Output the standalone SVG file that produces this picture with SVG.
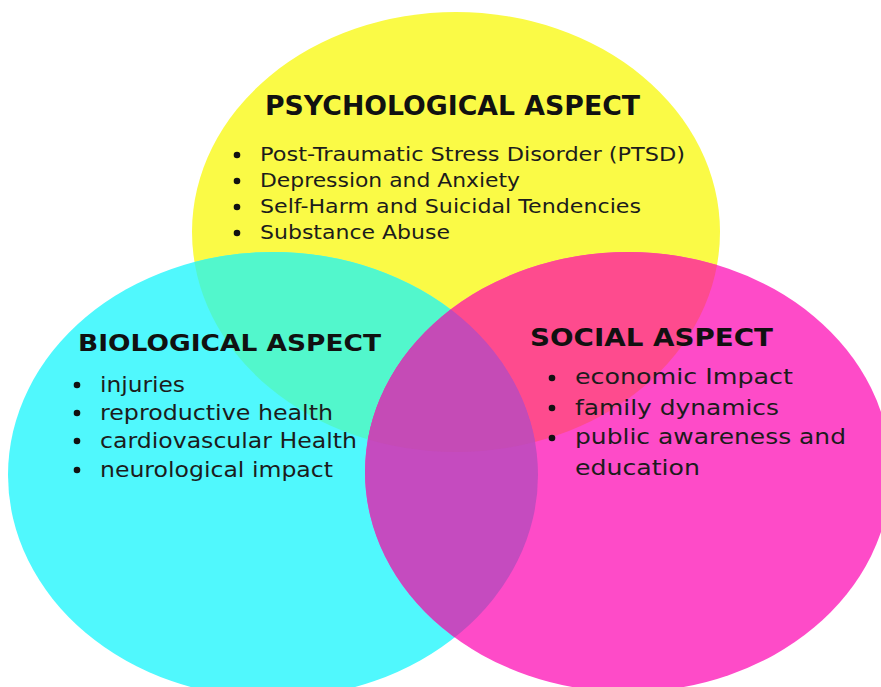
<svg xmlns="http://www.w3.org/2000/svg" xmlns:xlink="http://www.w3.org/1999/xlink" width="881" height="687" viewBox="0 0 881 687">
  <style>
    .title { font-family: "DejaVu Sans", "Liberation Sans", sans-serif; font-weight: bold; fill: #111; }
    .item { font-family: "DejaVu Sans", "Liberation Sans", sans-serif; fill: #1c1c1c; }
    .dot { fill: #111; }
  </style>
  <defs>
    <ellipse id="shape-psy" cx="456" cy="232" rx="264" ry="220"/>
    <ellipse id="shape-bio" cx="273" cy="475" rx="265" ry="223"/>
    <ellipse id="shape-soc" cx="628" cy="472" rx="263" ry="220"/>
    <clipPath id="clip-psy"><use xlink:href="#shape-psy"/></clipPath>
    <clipPath id="clip-bio"><use xlink:href="#shape-bio"/></clipPath>
    <clipPath id="clip-soc"><use xlink:href="#shape-soc"/></clipPath>
  </defs>

  <rect width="881" height="687" fill="#ffffff"/>

  <!-- circles -->
  <g id="circles">
    <use id="psy-circle" xlink:href="#shape-psy" fill="#fafa46"/>
    <use id="bio-circle" xlink:href="#shape-bio" fill="#50f8fd"/>
    <use id="soc-circle" xlink:href="#shape-soc" fill="#fe4bc8"/>
  </g>

  <!-- overlap regions -->
  <g id="overlaps">
    <g clip-path="url(#clip-psy)"><use xlink:href="#shape-bio" fill="#52f7cc"/></g>
    <g clip-path="url(#clip-psy)"><use xlink:href="#shape-soc" fill="#fe4b8e"/></g>
    <g clip-path="url(#clip-bio)"><use xlink:href="#shape-soc" fill="#c54bbf"/></g>
    <g clip-path="url(#clip-psy)"><g clip-path="url(#clip-bio)"><use xlink:href="#shape-soc" fill="#c54bb6"/></g></g>
  </g>

  <!-- psychological aspect -->
  <g id="psychological">
    <text class="title" x="265" y="115" font-size="26" textLength="375" lengthAdjust="spacingAndGlyphs">PSYCHOLOGICAL ASPECT</text>
    <circle class="dot" cx="237" cy="155" r="3.3"/>
    <circle class="dot" cx="237" cy="181" r="3.3"/>
    <circle class="dot" cx="237" cy="207" r="3.3"/>
    <circle class="dot" cx="237" cy="233" r="3.3"/>
    <text class="item" x="260" y="161" font-size="19" textLength="425" lengthAdjust="spacingAndGlyphs">Post-Traumatic Stress Disorder (PTSD)</text>
    <text class="item" x="260" y="187" font-size="19" textLength="260" lengthAdjust="spacingAndGlyphs">Depression and Anxiety</text>
    <text class="item" x="260" y="213" font-size="19" textLength="381" lengthAdjust="spacingAndGlyphs">Self-Harm and Suicidal Tendencies</text>
    <text class="item" x="260" y="239" font-size="19" textLength="190" lengthAdjust="spacingAndGlyphs">Substance Abuse</text>
  </g>

  <!-- biological aspect -->
  <g id="biological">
    <text class="title" x="78" y="351" font-size="23" textLength="303" lengthAdjust="spacingAndGlyphs">BIOLOGICAL ASPECT</text>
    <circle class="dot" cx="77" cy="385" r="3.3"/>
    <circle class="dot" cx="77" cy="413" r="3.3"/>
    <circle class="dot" cx="77" cy="441" r="3.3"/>
    <circle class="dot" cx="77" cy="470" r="3.3"/>
    <text class="item" x="100" y="392" font-size="21" textLength="85" lengthAdjust="spacingAndGlyphs">injuries</text>
    <text class="item" x="100" y="420" font-size="21" textLength="233" lengthAdjust="spacingAndGlyphs">reproductive health</text>
    <text class="item" x="100" y="448" font-size="21" textLength="257" lengthAdjust="spacingAndGlyphs">cardiovascular Health</text>
    <text class="item" x="100" y="477" font-size="21" textLength="233" lengthAdjust="spacingAndGlyphs">neurological impact</text>
  </g>

  <!-- social aspect -->
  <g id="social">
    <text class="title" x="530" y="346" font-size="24" textLength="243" lengthAdjust="spacingAndGlyphs">SOCIAL ASPECT</text>
    <circle class="dot" cx="552" cy="378" r="3.3"/>
    <circle class="dot" cx="552" cy="408" r="3.3"/>
    <circle class="dot" cx="552" cy="438" r="3.3"/>
    <text class="item" x="575" y="384" font-size="21" textLength="218" lengthAdjust="spacingAndGlyphs">economic Impact</text>
    <text class="item" x="575" y="415" font-size="21" textLength="204" lengthAdjust="spacingAndGlyphs">family dynamics</text>
    <text class="item" x="575" y="444" font-size="21" textLength="271" lengthAdjust="spacingAndGlyphs">public awareness and</text>
    <text class="item" x="575" y="475" font-size="21" textLength="125" lengthAdjust="spacingAndGlyphs">education</text>
  </g>
</svg>
